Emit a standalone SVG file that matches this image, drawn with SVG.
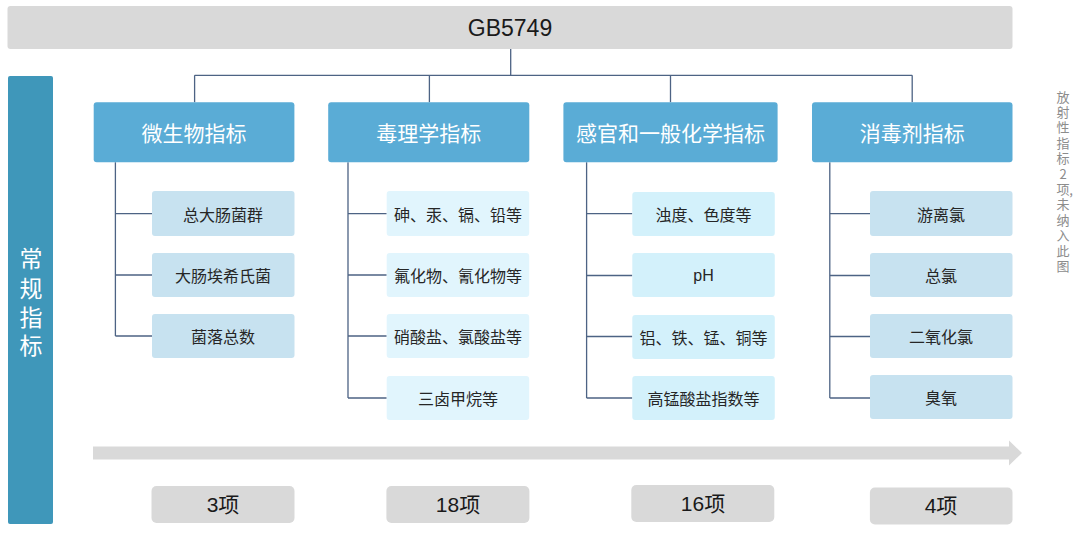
<svg xmlns="http://www.w3.org/2000/svg" width="1080" height="539" viewBox="0 0 1080 539">
<style>
.cjk{font-family:"Noto Sans CJK SC","Liberation Sans",sans-serif;}
.hdr{fill:#5aacd6;}
.ht{fill:#ffffff;font-size:21px;text-anchor:middle;dominant-baseline:central;}
.sub1{fill:#c7e2f0;}
.sub2{fill:#e1f5fd;}
.sub3{fill:#d3f1fb;}
.st{fill:#262626;font-size:16px;text-anchor:middle;dominant-baseline:central;}
.cnt{fill:#d9d9d9;}
.ct{fill:#1a1a1a;font-size:21px;text-anchor:middle;dominant-baseline:central;font-family:"Liberation Sans","Noto Sans CJK SC",sans-serif;}
.ln{fill:none;stroke:#4d6384;stroke-width:1.3;}
.note{fill:#8c8c8c;font-size:13px;text-anchor:middle;dominant-baseline:central;}
</style>
<rect width="1080" height="539" fill="#ffffff"/>

<g id="root">
<rect x="7.5" y="6" width="1005" height="43" rx="3" fill="#d9d9d9"/>
<text x="510" y="28" font-family="Liberation Sans, Arial, sans-serif" font-size="23" fill="#1a1a1a" text-anchor="middle" dominant-baseline="central">GB5749</text>
</g>

<g id="side-label">
<rect x="8" y="76" width="45" height="448" rx="2" fill="#3f97ba"/>
<text class="cjk" fill="#ffffff" font-size="23" text-anchor="middle" dominant-baseline="central" x="31 31 31 31" y="257 287 316 344">常规指标</text>
</g>

<g id="connectors">
<path class="ln" d="M510.7 49 V75.3 M194.6 75.3 H912.2 M194.6 75.3 V102.3 M429.4 75.3 V102.3 M670.5 75.3 V102.3 M912.2 75.3 V102.3"/>
<path class="ln" d="M115.4 162.3 V336 M115.4 213.7 H152 M115.4 275 H152 M115.4 336 H152"/>
<path class="ln" d="M348 162.3 V398 M348 213.7 H386.7 M348 275 H386.7 M348 336 H386.7 M348 398 H386.7"/>
<path class="ln" d="M586.6 162.3 V398 M586.6 213.7 H632.3 M586.6 275.5 H632.3 M586.6 336.5 H632.3 M586.6 398 H632.3"/>
<path class="ln" d="M829.8 162.3 V398 M829.8 213.7 H870 M829.8 275.5 H870 M829.8 336.5 H870 M829.8 398 H870"/>
</g>

<g id="h1" class="cjk">
<rect class="hdr" x="93.7" y="102.3" width="200.7" height="60" rx="3"/>
<text class="ht" x="194" y="132.3">微生物指标</text>
</g>
<g id="h2" class="cjk">
<rect class="hdr" x="328.2" y="102.3" width="201.1" height="60" rx="3"/>
<text class="ht" x="428.8" y="132.3">毒理学指标</text>
</g>
<g id="h3" class="cjk">
<rect class="hdr" x="563.4" y="102.3" width="214.2" height="60" rx="3"/>
<text class="ht" x="670.5" y="132.3">感官和一般化学指标</text>
</g>
<g id="h4" class="cjk">
<rect class="hdr" x="812" y="102.3" width="200.5" height="60" rx="3"/>
<text class="ht" x="912.2" y="132.3">消毒剂指标</text>
</g>

<g id="m1" class="cjk"><rect class="sub1" x="152" y="191" width="142.5" height="45" rx="3"/><text class="st" x="223" y="213.5">总大肠菌群</text></g>
<g id="m2" class="cjk"><rect class="sub1" x="152" y="253" width="142.5" height="44" rx="3"/><text class="st" x="223" y="275">大肠埃希氏菌</text></g>
<g id="m3" class="cjk"><rect class="sub1" x="152" y="314" width="142.5" height="44" rx="3"/><text class="st" x="223" y="336">菌落总数</text></g>

<g id="t1" class="cjk"><rect class="sub2" x="386.7" y="191" width="142.5" height="45" rx="3"/><text class="st" x="458" y="213.5">砷、汞、镉、铅等</text></g>
<g id="t2" class="cjk"><rect class="sub2" x="386.7" y="253" width="142.5" height="44" rx="3"/><text class="st" x="458" y="275">氟化物、氰化物等</text></g>
<g id="t3" class="cjk"><rect class="sub2" x="386.7" y="314" width="142.5" height="44" rx="3"/><text class="st" x="458" y="336">硝酸盐、氯酸盐等</text></g>
<g id="t4" class="cjk"><rect class="sub2" x="386.7" y="376" width="142.5" height="44" rx="3"/><text class="st" x="458" y="398">三卤甲烷等</text></g>

<g id="g1" class="cjk"><rect class="sub3" x="632.3" y="192" width="142.5" height="44" rx="3"/><text class="st" x="703.5" y="214">浊度、色度等</text></g>
<g id="g2" class="cjk"><rect class="sub3" x="632.3" y="253" width="142.5" height="44" rx="3"/><text class="st" x="703.5" y="275" font-family="Liberation Sans, Arial, sans-serif">pH</text></g>
<g id="g3" class="cjk"><rect class="sub3" x="632.3" y="315" width="142.5" height="44" rx="3"/><text class="st" x="703.5" y="337">铝、铁、锰、铜等</text></g>
<g id="g4" class="cjk"><rect class="sub3" x="632.3" y="376" width="142.5" height="44" rx="3"/><text class="st" x="703.5" y="398">高锰酸盐指数等</text></g>

<g id="d1" class="cjk"><rect class="sub1" x="870" y="191" width="142.5" height="45" rx="3"/><text class="st" x="941" y="213.5">游离氯</text></g>
<g id="d2" class="cjk"><rect class="sub1" x="870" y="253" width="142.5" height="44" rx="3"/><text class="st" x="941" y="275">总氯</text></g>
<g id="d3" class="cjk"><rect class="sub1" x="870" y="314" width="142.5" height="44" rx="3"/><text class="st" x="941" y="336">二氧化氯</text></g>
<g id="d4" class="cjk"><rect class="sub1" x="870" y="375" width="142.5" height="44" rx="3"/><text class="st" x="941" y="397">臭氧</text></g>

<g id="arrow">
<path d="M93 446.5 H1009 V440.5 L1022 453 L1009 465.5 V459.5 H93 Z" fill="#d9d9d9"/>
</g>

<g id="c1"><rect class="cnt" x="151.5" y="486" width="143" height="37" rx="5"/><text class="ct" x="223" y="504">3项</text></g>
<g id="c2"><rect class="cnt" x="386.4" y="486" width="143" height="37" rx="5"/><text class="ct" x="458" y="504">18项</text></g>
<g id="c3"><rect class="cnt" x="631.3" y="485" width="143" height="37" rx="5"/><text class="ct" x="703" y="503">16项</text></g>
<g id="c4"><rect class="cnt" x="869.9" y="487.5" width="142.6" height="37" rx="5"/><text class="ct" x="941" y="505.5">4项</text></g>

<g id="note" class="cjk">
<text class="note" x="1063 1063 1063 1063 1063 1063 1063 1071 1063 1063 1063 1063 1063" y="96 111.4 126.8 142.2 157.6 173 188.4 189.5 203.8 219.2 234.6 250 265.4">放射性指标2项,未纳入此图</text>
</g>
</svg>
